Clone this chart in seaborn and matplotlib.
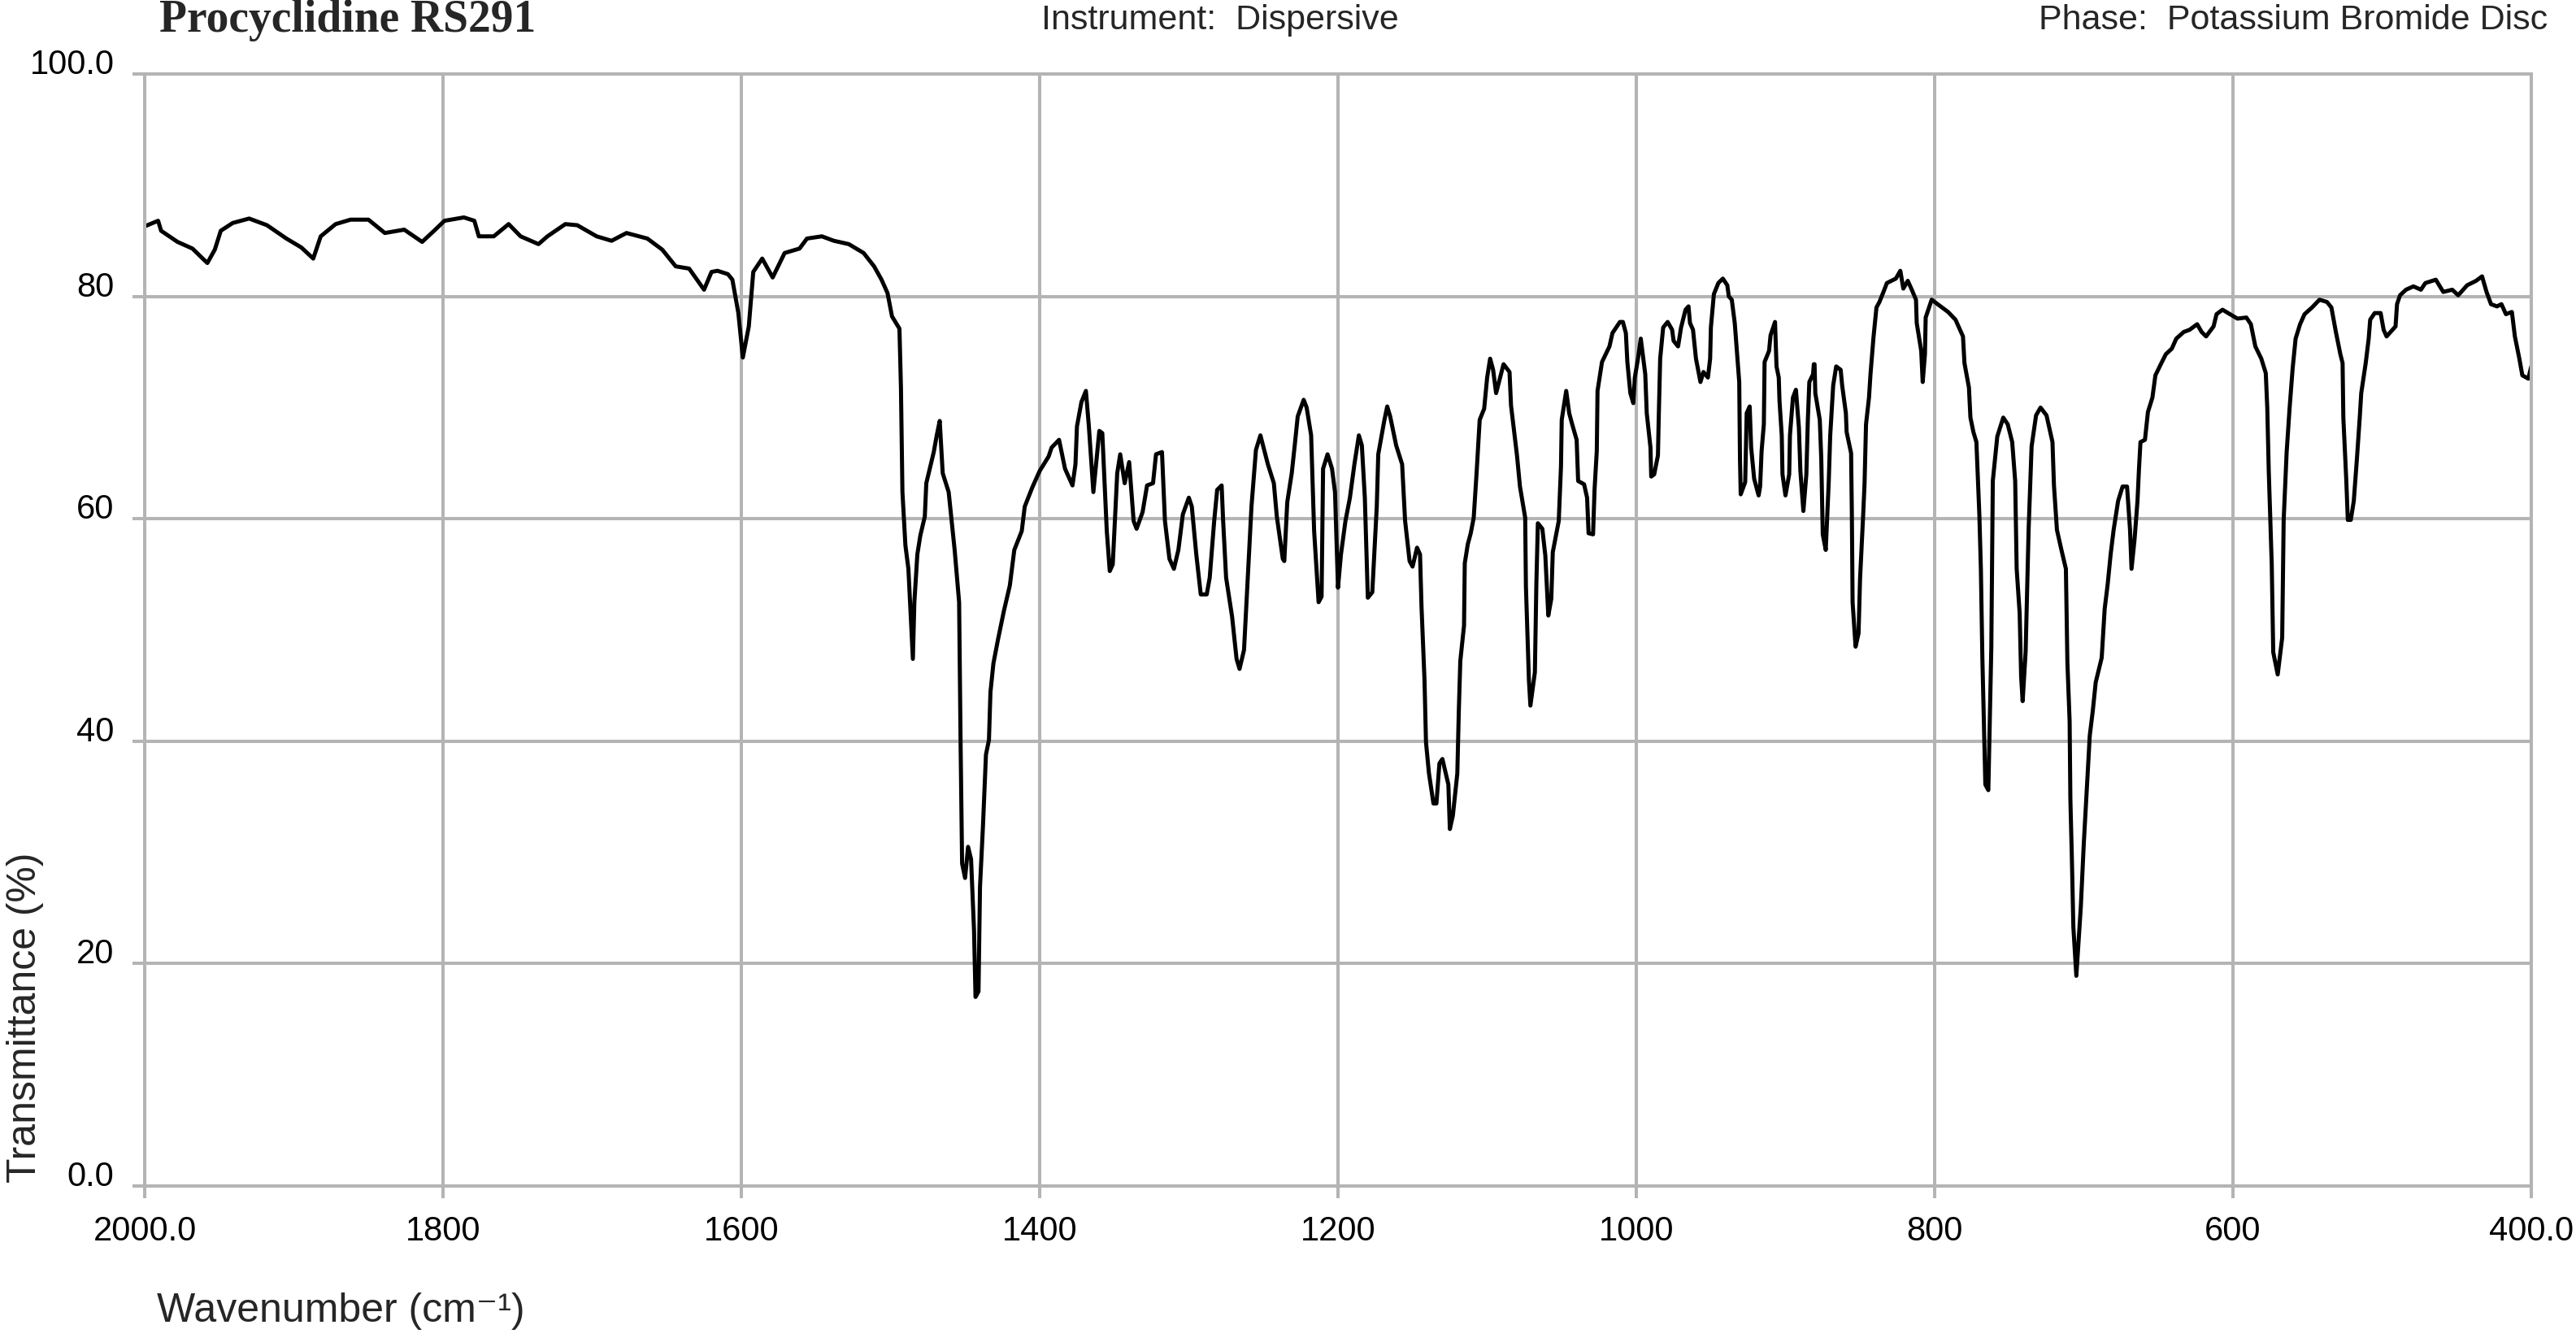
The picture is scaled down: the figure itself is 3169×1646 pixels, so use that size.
import numpy as np
import pandas as pd
import seaborn as sns
from matplotlib import pyplot as plt

# --- spectrum, split into four wavenumber regions ---
wn_2000_1500 = [2000, 1991, 1989, 1978, 1968, 1958, 1953, 1949, 1941, 1930, 1918, 1905, 1895, 1887, 1882,
                1872, 1862, 1850, 1839, 1826, 1814, 1806, 1799, 1786, 1779, 1776, 1766, 1756, 1748, 1736,
                1730, 1718, 1710, 1697, 1687, 1677, 1663, 1653, 1644, 1635, 1625, 1620, 1616, 1609, 1606,
                1602, 1599, 1595, 1592, 1586, 1579, 1571, 1561, 1556, 1546, 1538, 1528, 1518, 1511, 1506]
t_2000_1500 = [86.3, 86.8, 85.9, 84.9, 84.3, 83.0, 84.2, 85.9, 86.6, 87.0, 86.4, 85.2, 84.4, 83.4, 85.4,
               86.5, 86.9, 86.9, 85.7, 86.0, 84.9, 85.9, 86.8, 87.1, 86.8, 85.4, 85.4, 86.5, 85.4, 84.7,
               85.4, 86.5, 86.4, 85.4, 85.0, 85.7, 85.2, 84.2, 82.7, 82.5, 80.6, 82.2, 82.3, 82.0, 81.5,
               78.5, 74.5, 77.3, 82.2, 83.4, 81.7, 83.9, 84.3, 85.2, 85.4, 85.0, 84.7, 83.9, 82.7, 81.5]

wn_1500_1145 = [1502, 1499, 1494, 1493, 1492, 1490, 1488, 1485, 1484, 1482, 1480, 1477, 1476, 1473, 1471,
                1469, 1467, 1465, 1461, 1459, 1457, 1454, 1453, 1452, 1450, 1448, 1446, 1444, 1443, 1441,
                1440, 1438, 1436, 1434, 1433, 1431, 1428, 1424, 1420, 1417, 1412, 1410, 1405, 1400, 1394,
                1392, 1387, 1383, 1378, 1376, 1375, 1372, 1369, 1367, 1364, 1360, 1358, 1355, 1353, 1351,
                1348, 1346, 1343, 1340, 1337, 1335, 1331, 1328, 1324, 1322, 1318, 1316, 1313, 1310, 1307,
                1304, 1300, 1298, 1295, 1292, 1288, 1286, 1283, 1281, 1278, 1277, 1275, 1271, 1268, 1266,
                1263, 1260, 1258, 1255, 1252, 1247, 1243, 1241, 1237, 1236, 1234, 1231, 1229, 1227, 1223,
                1221, 1218, 1216, 1213, 1211, 1210, 1207, 1204, 1202, 1200, 1198, 1195, 1192, 1189, 1186,
                1184, 1182, 1180, 1177, 1174, 1173, 1169, 1167, 1165, 1161, 1157, 1155, 1152, 1150, 1147,
                1145]
t_1500_1145 = [80.3, 78.2, 77.1, 71.8, 62.4, 57.6, 55.5, 47.4, 52.5, 56.8, 58.5, 60.2, 63.2, 64.9, 66.0,
               67.5, 68.8, 64.1, 62.4, 59.8, 57.2, 52.5, 39.7, 29.0, 27.7, 30.5, 29.4, 23.0, 17.0, 17.5,
               26.9, 32.4, 38.8, 40.1, 44.4, 47.0, 49.1, 51.7, 54.0, 57.2, 58.9, 61.1, 62.8, 64.3, 65.6,
               66.4, 67.1, 64.5, 63.0, 64.9, 68.3, 70.5, 71.5, 68.3, 62.4, 67.9, 67.7, 58.9, 55.3, 55.9,
               64.1, 65.8, 63.2, 65.1, 59.8, 59.1, 60.6, 63.0, 63.2, 65.8, 66.0, 59.8, 56.4, 55.5, 57.2,
               60.4, 61.9, 61.1, 56.8, 53.2, 53.2, 54.7, 59.8, 62.6, 63.0, 59.8, 54.7, 51.2, 47.4, 46.5,
               48.2, 55.9, 61.1, 66.2, 67.5, 64.9, 63.2, 60.2, 56.4, 56.2, 61.5, 64.1, 66.6, 69.2, 70.7,
               70.0, 67.5, 58.9, 52.5, 53.0, 64.5, 65.8, 64.5, 62.4, 53.8, 56.8, 59.8, 61.9, 64.9, 67.5,
               66.6, 61.9, 52.9, 53.4, 61.1, 65.8, 68.8, 70.1, 69.2, 66.6, 64.9, 59.8, 56.2, 55.7, 57.4,
               56.8]

wn_1145_790 = [1144, 1142, 1141, 1139, 1136, 1134, 1132, 1130, 1126, 1125.5, 1125, 1123, 1120, 1119, 1118,
               1115.5, 1115, 1113, 1111, 1109, 1107, 1105, 1102, 1100, 1098, 1096, 1094, 1089, 1085, 1084,
               1080, 1078, 1074.5, 1074, 1072, 1071, 1068, 1067, 1066, 1063, 1061, 1059, 1057, 1056, 1052,
               1050.5, 1050, 1047, 1045, 1043, 1040, 1039, 1035, 1033, 1032, 1029, 1028, 1026.5, 1026, 1023,
               1018, 1016, 1011, 1009, 1007, 1006, 1004, 1002, 1001, 999, 997, 994, 993, 990.5, 990,
               988, 985.5, 985, 984, 982, 979, 976, 975, 972, 970, 967, 965, 964, 962, 960,
               957, 955, 952, 950.5, 950, 948, 945, 942, 939, 938, 936, 934, 932, 931, 930.5,
               930, 927, 926, 924, 923, 921, 918, 917, 916, 914.5, 914, 911, 910, 907, 906,
               904.5, 904, 902.5, 902, 900, 897.5, 897, 895, 893, 891, 890, 888, 886, 885, 884,
               881.5, 881, 880.5, 880, 877, 876, 875, 873, 871, 870, 868, 866, 863, 862, 859.5,
               859, 856, 855.5, 855, 853, 851, 850, 848, 847, 846, 844, 843, 841, 839, 837,
               834, 832, 829, 826, 823, 821, 818, 815, 812.5, 812, 809, 808, 806.5, 806, 802,
               800, 796, 791]
t_1145_790 = [52.1, 45.5, 39.9, 37.1, 34.4, 34.4, 38.0, 38.4, 36.1, 34.0, 32.1, 33.3, 37.1, 42.7, 47.2,
              50.4, 56.0, 57.7, 58.7, 60.1, 64.3, 68.9, 69.9, 72.7, 74.4, 73.4, 71.3, 73.9, 73.2, 70.2,
              65.7, 62.9, 60.1, 53.9, 45.5, 43.2, 46.2, 54.2, 59.6, 59.1, 56.7, 51.3, 52.8, 57.0, 59.8,
              64.7, 68.9, 71.5, 69.5, 68.5, 67.1, 63.4, 63.1, 61.9, 58.7, 58.6, 62.6, 66.1, 71.5, 74.1,
              75.5, 76.7, 77.7, 77.7, 76.7, 74.1, 71.3, 70.4, 72.7, 74.3, 76.2, 73.0, 69.5, 66.4, 63.8,
              64.0, 65.7, 68.9, 74.4, 77.2, 77.7, 77.0, 76.0, 75.5, 77.2, 78.8, 79.1, 77.6, 77.0, 74.4,
              72.3, 73.2, 72.7, 74.4, 77.2, 80.2, 81.2, 81.6, 81.0, 80.0, 79.7, 77.6, 74.1, 72.3, 65.4,
              62.2, 63.3, 69.5, 70.1, 66.4, 63.6, 62.1, 62.9, 66.1, 68.5, 74.1, 75.1, 76.5, 77.7, 73.7,
              72.7, 70.6, 67.5, 64.0, 62.1, 64.0, 67.5, 70.9, 71.6, 68.2, 64.3, 60.7, 64.0, 68.9, 72.3,
              73.0, 73.9, 73.9, 71.3, 68.9, 65.4, 58.6, 57.2, 63.3, 67.5, 72.0, 73.7, 73.4, 72.0, 69.5,
              67.8, 65.9, 60.5, 52.5, 48.5, 49.7, 54.6, 60.1, 63.1, 68.5, 70.9, 73.0, 76.3, 79.0, 79.5,
              80.5, 81.2, 81.4, 81.6, 82.3, 80.7, 81.4, 80.5, 79.7, 77.6, 75.1, 72.3, 74.8, 78.1, 79.7,
              79.5, 79.1, 78.6]

wn_790_400 = [786, 781, 780, 777, 776, 774, 772, 770, 769, 768, 766, 764, 762, 761, 758,
              754, 751, 748, 746, 745, 743, 742, 741, 739, 737, 735, 732, 729, 725, 721,
              720, 718, 715, 712, 711, 709.5, 709, 708, 707, 705, 702, 700, 698, 696, 694,
              692, 688, 686, 684, 682, 680, 677, 674, 671, 669, 668, 666, 664, 663, 662,
              659, 657, 654, 652, 648, 645, 641, 638, 633, 629, 624, 621, 618, 613, 611,
              607, 602, 597, 591, 588, 585, 581, 578, 577, 576, 574, 573, 570, 567, 566,
              564, 562, 560, 558, 555, 552, 547, 542, 537, 534, 531, 528, 526.5, 526, 524,
              523, 521, 519, 517, 515, 514, 511, 509, 508, 505, 501, 499, 497, 493, 491,
              490, 488, 484, 479, 474, 471, 464, 459, 453, 449, 443, 437, 433, 430, 427,
              423, 420, 417, 413, 411, 408, 406, 402, 400]
t_790_400 = [77.9, 76.4, 74.0, 71.8, 69.1, 67.8, 66.9, 60.3, 55.5, 47.5, 36.1, 35.6, 48.4, 63.4, 67.4,
             69.1, 68.5, 66.9, 63.4, 55.5, 51.5, 45.8, 43.6, 48.0, 59.0, 66.5, 69.3, 70.0, 69.3, 66.9,
             63.0, 59.0, 57.2, 55.5, 47.1, 41.8, 34.8, 29.5, 23.3, 18.9, 25.1, 30.8, 35.6, 40.5, 42.7,
             45.3, 47.5, 51.9, 54.1, 56.8, 59.0, 61.6, 62.9, 62.9, 59.0, 55.5, 58.1, 61.6, 64.5, 66.9,
             67.1, 69.6, 70.9, 72.9, 74.0, 74.8, 75.3, 76.2, 76.8, 77.0, 77.5, 76.8, 76.4, 77.3, 78.4,
             78.8, 78.4, 78.0, 78.1, 77.5, 75.5, 74.4, 73.1, 70.0, 64.3, 55.9, 48.0, 46.0, 49.3, 59.9,
             66.0, 70.0, 73.5, 76.2, 77.5, 78.4, 79.0, 79.7, 79.5, 79.0, 76.8, 74.8, 74.0, 69.1, 63.4,
             59.9, 59.9, 61.6, 65.2, 69.1, 71.3, 74.0, 76.2, 77.9, 78.5, 78.5, 77.0, 76.4, 77.0, 77.3,
             79.3, 80.1, 80.6, 80.9, 80.6, 81.2, 81.5, 80.4, 80.6, 80.1, 81.0, 81.4, 81.8, 80.4, 79.3,
             79.1, 79.3, 78.4, 78.6, 76.4, 74.4, 72.9, 72.6, 73.7]

x_ticks = [2000, 1800, 1600, 1400, 1200, 1000, 800, 600, 400]
x_tick_labels = ['2000.0', '1800', '1600', '1400', '1200', '1000', '800', '600', '400.0']
y_ticks = [0, 20, 40, 60, 80, 100]
y_tick_labels = ['0.0', '20', '40', '60', '80', '100.0']

spectrum = pd.DataFrame({
    'Wavenumber': wn_2000_1500 + wn_1500_1145 + wn_1145_790 + wn_790_400,
    'Transmittance': t_2000_1500 + t_1500_1145 + t_1145_790 + t_790_400,
})

sns.set_style('white')
plt.rcParams['font.family'] = ['Liberation Sans', 'DejaVu Sans']

grid_grey = '#b4b4b4'

fig = plt.figure(figsize=(31.69, 16.46), dpi=100)
ax = fig.add_axes([0.05617, 0.11361, 0.92647, 0.83110])

sns.lineplot(data=spectrum, x='Wavenumber', y='Transmittance', sort=False, estimator=None,
             color='black', linewidth=3.6, ax=ax)

ax.set_xlim(2000, 400)
ax.set_ylim(0, 100)
ax.set_xticks(x_ticks)
ax.set_xticklabels(x_tick_labels)
ax.set_yticks(y_ticks)
ax.set_yticklabels(y_tick_labels)

ax.set_axisbelow(True)
ax.grid(True, color=grid_grey, linewidth=2.9)
for side in ['top', 'bottom', 'left', 'right']:
    ax.spines[side].set_visible(True)
    ax.spines[side].set_color(grid_grey)
    ax.spines[side].set_linewidth(2.9)

ax.tick_params(axis='both', direction='out', length=11, width=2.9, color=grid_grey,
               labelsize=30, labelcolor='black')
ax.tick_params(axis='x', pad=15, bottom=True)
ax.tick_params(axis='y', pad=16, left=True)
for lbl in ax.get_yticklabels():
    lbl.set_verticalalignment('baseline')

ax.set_xlabel('Wavenumber (cm\u207b\u00b9)', fontsize=36, loc='left')
ax.xaxis.set_label_coords(0.005, -0.096)
ax.set_ylabel('Transmittance (%)', fontsize=36, loc='bottom')
ax.yaxis.set_label_coords(-0.0422, 0.003)

fig.text(0.062, 0.985, 'Procyclidine RS291', family=['Liberation Serif', 'DejaVu Serif'],
         weight='bold', fontsize=40, ha='left', va='center')
fig.text(0.4042, 0.985, 'Instrument:  Dispersive', fontsize=31, ha='left', va='center')
fig.text(0.989, 0.985, 'Phase:  Potassium Bromide Disc', fontsize=31, ha='right', va='center')

plt.savefig('out.png', dpi=100)
